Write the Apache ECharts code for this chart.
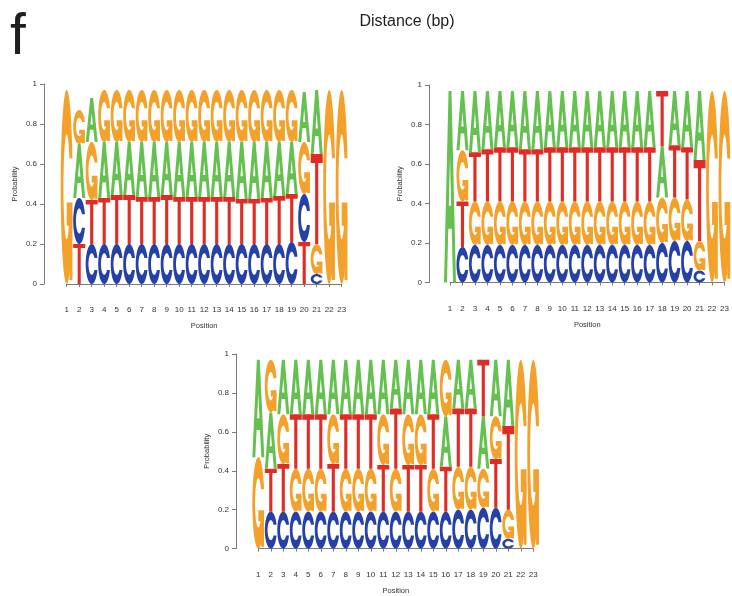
<!DOCTYPE html>
<html>
<head>
<meta charset="utf-8">
<script src="https://cdn.jsdelivr.net/npm/echarts@6/dist/echarts.min.js"></script>
<style>
  html, body { margin: 0; padding: 0; background: #ffffff; }
  #chart { width: 732px; height: 596px; }
</style>
</head>
<body>
<div id="chart"></div>
<script>
// Sequence positions shown on every x axis
const positions = [1,2,3,4,5,6,7,8,9,10,11,12,13,14,15,16,17,18,19,20,21,22,23];
const yTicks = [0, 0.2, 0.4, 0.6, 0.8, 1];

// Panel 1 (top left): letters per position, stacked bottom to top, with their probabilities
const logo1Letters = ['G','TCAG','CTGA','CTAG','CTAG','CTAG','CTAG','CTAG','CTAG','CTAG','CTAG','CTAG','CTAG','CTAG','CTAG','CTAG','CTAG','CTAG','CTAG','TCGA','CGTA','G','G'];
const logo1Heights = [
  [0.97],
  [0.20,0.23,0.27,0.17],
  [0.20,0.22,0.29,0.22],
  [0.20,0.23,0.28,0.26],
  [0.20,0.245,0.265,0.26],
  [0.20,0.245,0.265,0.26],
  [0.20,0.235,0.275,0.26],
  [0.20,0.235,0.275,0.26],
  [0.20,0.245,0.265,0.26],
  [0.20,0.235,0.275,0.26],
  [0.20,0.235,0.275,0.26],
  [0.20,0.235,0.275,0.26],
  [0.20,0.235,0.275,0.26],
  [0.20,0.235,0.275,0.26],
  [0.20,0.225,0.285,0.26],
  [0.20,0.225,0.285,0.26],
  [0.20,0.23,0.28,0.26],
  [0.20,0.24,0.27,0.26],
  [0.21,0.24,0.26,0.26],
  [0.21,0.24,0.26,0.25],
  [0.05,0.15,0.45,0.32],
  [0.97],
  [0.97]
];

// Panel 2 (top right)
const logo2Letters = ['A','CTGA','CGTA','CGTA','CGTA','CGTA','CGTA','CGTA','CGTA','CGTA','CGTA','CGTA','CGTA','CGTA','CGTA','CGTA','CGTA','CGAT','CGTA','CGTA','CGTA','G','G'];
const logo2Heights = [
  [0.97],
  [0.18,0.23,0.26,0.30],
  [0.19,0.22,0.25,0.31],
  [0.19,0.22,0.265,0.295],
  [0.19,0.22,0.275,0.285],
  [0.19,0.22,0.275,0.285],
  [0.19,0.22,0.265,0.295],
  [0.19,0.22,0.265,0.295],
  [0.19,0.22,0.275,0.285],
  [0.19,0.22,0.275,0.285],
  [0.19,0.22,0.275,0.285],
  [0.19,0.22,0.275,0.285],
  [0.19,0.22,0.275,0.285],
  [0.19,0.22,0.275,0.285],
  [0.19,0.22,0.275,0.285],
  [0.19,0.22,0.275,0.285],
  [0.19,0.22,0.275,0.285],
  [0.20,0.23,0.26,0.28],
  [0.21,0.22,0.265,0.275],
  [0.21,0.21,0.265,0.285],
  [0.06,0.15,0.41,0.35],
  [0.97],
  [0.97]
];

// Panel 3 (bottom centre)
const logo3Letters = ['GA','CTAG','CTGA','CGTA','CGTA','CGTA','CTGA','CGTA','CGTA','CGTA','CTGA','CGTA','CTGA','CTGA','CGTA','CTAG','CGTA','CGTA','CGAT','CTGA','CGTA','G','G'];
const logo3Heights = [
  [0.47,0.50],
  [0.19,0.22,0.29,0.27],
  [0.19,0.245,0.255,0.28],
  [0.19,0.22,0.28,0.28],
  [0.19,0.22,0.28,0.28],
  [0.19,0.22,0.28,0.28],
  [0.19,0.245,0.255,0.28],
  [0.19,0.22,0.28,0.28],
  [0.19,0.22,0.28,0.28],
  [0.19,0.22,0.28,0.28],
  [0.19,0.24,0.26,0.28],
  [0.19,0.22,0.31,0.25],
  [0.19,0.24,0.26,0.28],
  [0.19,0.24,0.26,0.28],
  [0.19,0.22,0.28,0.28],
  [0.19,0.23,0.26,0.29],
  [0.20,0.22,0.30,0.25],
  [0.20,0.22,0.30,0.25],
  [0.21,0.20,0.27,0.29],
  [0.21,0.25,0.22,0.29],
  [0.05,0.15,0.43,0.34],
  [0.97],
  [0.97]
];

const LETTERS = 'ACGT';
const COLORS = { A: '#64c04f', C: '#2540a6', G: '#f3a12a', T: '#e02c24' };
const LETTER_WIDTH = 0.96;   // share of one position slot filled by a glyph
const FONT = '"Liberation Sans", Arial, Helvetica, sans-serif';

// ---- glyph outlines in a unit box (x right, y up) ----
const INNER_R = 0.27;
function buildRing() {
  const n = 36;
  const a0 = Math.PI / 2 + 0.3, a1 = 1.5 * Math.PI;
  const outerLower = [];
  for (let i = 0; i <= n; i++) {
    const a = a0 + (a1 - a0) * i / n;
    outerLower.push([0.5 + 0.5 * Math.sin(a), 0.5 + 0.5 * Math.cos(a)]);
  }
  const yCut = 0.5 + 0.5 * Math.cos(a0);
  const ai = Math.acos((yCut - 0.5) / INNER_R);
  const innerLower = [];
  for (let i = 0; i <= n; i++) {
    const a = ai + (a1 - ai) * i / n;
    innerLower.push([0.5 + INNER_R * Math.sin(a), 0.5 + INNER_R * Math.cos(a)]);
  }
  const outerUpper = outerLower.slice().reverse().map(([x, y]) => [x, 1 - y]);
  const innerUpper = innerLower.map(([x, y]) => [x, 1 - y]);
  const innerBack = innerLower.slice().reverse();
  return {
    ring: [...outerLower, ...outerUpper.slice(1), ...innerUpper, ...innerBack.slice(1)],
    r1: 0.5 + 0.5 * Math.sin(a0)
  };
}
const RING = buildRing();
const GLYPHS = {
  A: [[
    [[0,0],[0.38,1],[0.62,1],[1,0],[0.75,0],[0.644,0.28],[0.356,0.28],[0.25,0]],
    [[0.598,0.4],[0.5,0.658],[0.402,0.4]]
  ]],
  C: [[RING.ring]],
  G: [[RING.ring], [[[RING.r1,0.42],[0.5,0.42],[0.5,0.3],[RING.r1-0.25,0.3],[RING.r1-0.25,0.02],[RING.r1,0.02]]]],
  T: [[[[0,1],[1,1],[1,0.9],[0.63,0.9],[0.63,0],[0.37,0],[0.37,0.9],[0,0.9]]]]
};

// Stack letters of each position: [position, from, to, letterIndex]
function stackData(letters, heights) {
  const out = [];
  letters.forEach((col, i) => {
    let acc = 0;
    col.split('').forEach((ch, k) => {
      const h = heights[i][k];
      out.push([positions[i], acc, acc + h, LETTERS.indexOf(ch)]);
      acc += h;
    });
  });
  return out;
}

function renderLetter(params, api) {
  const pos = api.value(0), lo = api.value(1), hi = api.value(2);
  const letter = LETTERS[api.value(3)];
  const pLo = api.coord([pos, lo]);
  const pHi = api.coord([pos, hi]);
  const w = api.size([1, 0])[0] * LETTER_WIDTH;
  const x0 = pLo[0] - w / 2, yb = pLo[1], h = pLo[1] - pHi[1];
  const children = GLYPHS[letter].map(subpaths => ({
    type: 'path',
    shape: {
      pathData: subpaths.map(ring =>
        'M' + ring.map(([u, v]) => (x0 + u * w).toFixed(2) + ',' + (yb - v * h).toFixed(2)).join('L') + 'Z'
      ).join('')
    },
    style: { fill: COLORS[letter] }
  }));
  return { type: 'group', children: children };
}

const axisColor = '#7a7a7a';
const labelColor = '#333333';

function xAxisFor(gridIndex, offset) {
  return {
    gridIndex: gridIndex, type: 'value', min: 1, max: 23, interval: 1, offset: offset,
    name: 'Position', nameLocation: 'middle', nameGap: 28,
    nameTextStyle: { fontSize: 7.5, color: labelColor, fontFamily: FONT },
    axisLine: { show: true, lineStyle: { color: axisColor, width: 1 } },
    axisTick: { show: true, length: 3, lineStyle: { color: axisColor } },
    axisLabel: { fontSize: 8, color: labelColor, margin: 12, fontFamily: FONT,
                 formatter: v => String(positions[Math.round(v) - 1]) },
    splitLine: { show: false }
  };
}
function yAxisFor(gridIndex, offset) {
  return {
    gridIndex: gridIndex, type: 'value', min: yTicks[0], max: yTicks[yTicks.length - 1],
    interval: 0.2, offset: offset,
    name: 'Probability', nameLocation: 'middle', nameGap: 25, nameRotate: 90,
    nameTextStyle: { fontSize: 7.5, color: labelColor, fontFamily: FONT },
    axisLine: { show: true, lineStyle: { color: axisColor, width: 1 } },
    axisTick: { show: true, length: 4, lineStyle: { color: axisColor } },
    axisLabel: { fontSize: 8, color: labelColor, margin: 7, fontFamily: FONT },
    splitLine: { show: false }
  };
}

const chart = echarts.init(document.getElementById('chart'), null, { renderer: 'canvas' });
chart.setOption({
  animation: false,
  backgroundColor: '#ffffff',
  graphic: [
    { type: 'text', left: 10, top: 10,
      style: { text: 'f', fontSize: 57, fontFamily: FONT, fill: '#1e1e1e' } },
    { type: 'text', x: 407, y: 22,
      style: { text: 'Distance (bp)', fontSize: 16, fontFamily: FONT, fill: '#1e1e1e',
               align: 'center', verticalAlign: 'middle' } }
  ],
  grid: [
    { left: 66.7, top: 84, width: 275, height: 200 },
    { left: 450, top: 85, width: 275.7, height: 197.5 },
    { left: 258.3, top: 354, width: 275, height: 198.3 }
  ],
  xAxis: [xAxisFor(0, 10), xAxisFor(1, 10), xAxisFor(2, 10.4)],
  yAxis: [yAxisFor(0, 22.7), yAxisFor(1, 21), yAxisFor(2, 22.3)],
  series: [
    { type: 'custom', xAxisIndex: 0, yAxisIndex: 0, clip: false, renderItem: renderLetter,
      encode: { x: 0, y: [1, 2] }, data: stackData(logo1Letters, logo1Heights) },
    { type: 'custom', xAxisIndex: 1, yAxisIndex: 1, clip: false, renderItem: renderLetter,
      encode: { x: 0, y: [1, 2] }, data: stackData(logo2Letters, logo2Heights) },
    { type: 'custom', xAxisIndex: 2, yAxisIndex: 2, clip: false, renderItem: renderLetter,
      encode: { x: 0, y: [1, 2] }, data: stackData(logo3Letters, logo3Heights) }
  ]
});
</script>
</body>
</html>
